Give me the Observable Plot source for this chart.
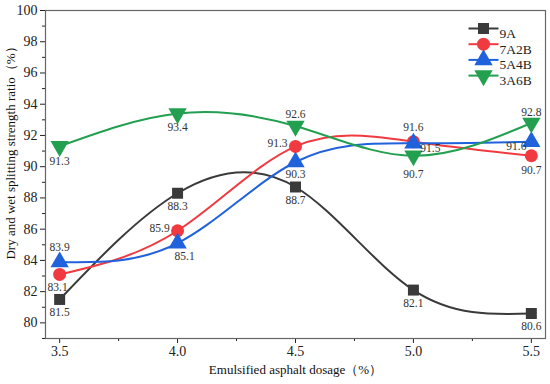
<!DOCTYPE html>
<html><head>
<meta charset="utf-8">
<script src="https://cdn.jsdelivr.net/npm/d3@7"></script>
<script src="https://cdn.jsdelivr.net/npm/@observablehq/plot@0.6"></script>
<style>
body{margin:0;background:#fff;}
#wrap{position:relative;width:550px;height:384px;}
#ytitle{position:absolute;left:10px;top:150px;width:max-content;transform:translate(-50%,-50%) rotate(-90deg);white-space:nowrap;font-family:'Liberation Serif','Times New Roman',serif;font-size:13px;line-height:1;color:#111;}
</style>
</head><body><div id="wrap"><div id="chart"></div><div id="ytitle"></div></div>
<script>
const dosage = [3.5, 4.0, 4.5, 5.0, 5.5];
const s9A   = [81.5, 88.3, 88.7, 82.1, 80.6];
const s7A2B = [83.1, 85.9, 91.3, 91.6, 90.7];
const s5A4B = [83.9, 85.1, 90.3, 91.5, 91.6];
const s3A6B = [91.3, 93.4, 92.6, 90.7, 92.8];
const seriesNames = ["9A", "7A2B", "5A4B", "3A6B"];
const yTicks = [80, 82, 84, 86, 88, 90, 92, 94, 96, 98, 100];
const yMinor = [79, 81, 83, 85, 87, 89, 91, 93, 95, 97, 99];
const xTicks = [3.5, 4.0, 4.5, 5.0, 5.5];
const xMinor = [3.75, 4.25, 4.75, 5.25];
const xTitle = "Emulsified asphalt dosage（%）";
const yTitle = "Dry and wet splitting strength ratio（%）";

document.getElementById("ytitle").textContent = yTitle;

const triDown = {draw(ctx, size) {
  d3.symbolTriangle.draw({
    moveTo: (x, y) => ctx.moveTo(x, -y),
    lineTo: (x, y) => ctx.lineTo(x, -y),
    closePath: () => ctx.closePath()
  }, size);
}};
const lineSym = {draw(ctx) { ctx.moveTo(-15, 0); ctx.lineTo(15, 0); }};

const styles = [
  {color: "#3a3a3a", symbol: "square", r: 6.2},
  {color: "#f03a40", symbol: "circle", r: 6.5},
  {color: "#1f62dc", symbol: "triangle", r: 6.8},
  {color: "#22a050", symbol: triDown, r: 6.8}
];
// label offsets (dx, dy) per point, per series
const labelOffsets = [
  [[0, 13], [0, 13], [0, 13], [0, 13], [0, 13]],
  [[-2, 13], [-18, -2], [-18, -3], [0, -14], [0, 15]],
  [[0, -15], [7, 13], [0, 12], [17, 5], [-15, 5]],
  [[0, 15], [0, 14], [0, -12], [0, 19], [0, -11]]
];

const values = [s9A, s7A2B, s5A4B, s3A6B];
const data = values.map((vals, si) => vals.map((v, i) => ({series: seriesNames[si], x: dosage[i], y: v, i})));

const marks = [
  Plot.axisY({ticks: yTicks, tickSize: 5, tickPadding: 3, fontSize: 14, label: null}),
  Plot.axisY({ticks: yMinor, tickSize: 3, tickFormat: () => "", label: null}),
  Plot.axisX({ticks: xTicks, tickSize: 5, tickPadding: 3, fontSize: 14, tickFormat: d3.format(".1f"), label: null}),
  Plot.axisX({ticks: xMinor, tickSize: 3, tickFormat: () => "", label: null}),
  Plot.frame({stroke: "#666", strokeWidth: 1.2}),
];
data.forEach((d, si) => {
  const st = styles[si];
  marks.push(Plot.line(d, {x: "x", y: "y", curve: "natural", stroke: st.color, strokeWidth: 2}));
});
data.forEach((d, si) => {
  const st = styles[si];
  marks.push(Plot.dot(d, {x: "x", y: "y", symbol: () => st.symbol, r: st.r, fill: st.color, stroke: "none"}));
});
data.forEach((d, si) => {
  d.forEach((p, i) => {
    const [dx, dy] = labelOffsets[si][i];
    marks.push(Plot.text([p], {x: "x", y: "y", text: q => q.y.toFixed(1), dx, dy, fontSize: 11.5, fill: "#333"}));
  });
});
// legend
seriesNames.forEach((name, si) => {
  const st = styles[si];
  const dy = 18 + si * 15.7;
  marks.push(Plot.dot([name], {frameAnchor: "top-right", dx: -62, dy, symbol: () => lineSym, stroke: st.color, strokeWidth: 2, fill: "none", r: 5}));
  marks.push(Plot.dot([name], {frameAnchor: "top-right", dx: -62, dy, symbol: () => st.symbol, fill: st.color, r: st.r}));
  marks.push(Plot.text([name], {frameAnchor: "top-right", dx: -46, dy, text: d => d, textAnchor: "start", fontSize: 13.5, fill: "#222"}));
});
marks.push(Plot.text([xTitle], {frameAnchor: "bottom", dy: 35, text: d => d, fontSize: 13, fill: "#111"}));

const chart = Plot.plot({
  width: 550, height: 384,
  marginLeft: 45, marginRight: 5, marginTop: 10, marginBottom: 46,
  x: {domain: [3.44, 5.56]},
  y: {domain: [79, 100]},
  symbol: {type: "identity"},
  style: {fontFamily: "'Liberation Serif', 'Times New Roman', serif", background: "#fff", color: "#222"},
  marks
});
document.getElementById("chart").appendChild(chart);
</script>
</body></html>
